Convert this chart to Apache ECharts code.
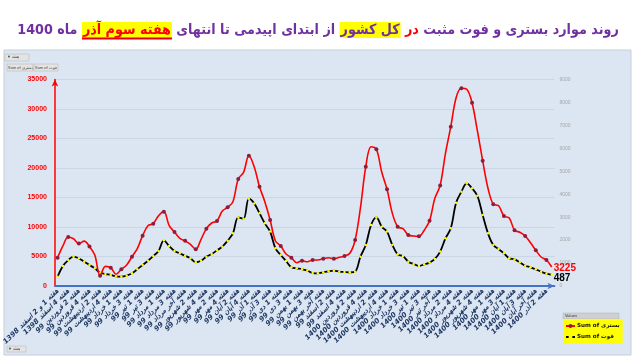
<!DOCTYPE html>
<html><head><meta charset="utf-8">
<script src="https://cdn.jsdelivr.net/npm/echarts@6/dist/echarts.min.js"></script>
<style>html,body{margin:0;padding:0;background:#fff}#c{width:636px;height:358px}</style>
</head><body><div id="c"></div>
<script>
const categories = [
'هفته 1 و 2 اسفند 1398','هفته 3 اسفند 1398','هفته 4 اسفند 1398',
'هفته 1 فروردین 99','هفته 2 فروردین 99','هفته 3 فروردین 99','هفته 4 فروردین 99',
'هفته 1 اردیبهشت 99','هفته 2 اردیبهشت 99','هفته 3 اردیبهشت 99','هفته 4 اردیبهشت 99','هفته آخر اردیبهشت 99',
'هفته 1 خرداد 99','هفته 2 خرداد 99','هفته 3 خرداد 99','هفته 4 خرداد 99',
'هفته 1 تیر 99','هفته 2 تیر 99','هفته 3 تیر 99','هفته 4 تیر 99',
'هفته 1 مرداد 99','هفته 2 مرداد 99','هفته 3 مرداد 99','هفته 4 مرداد 99','هفته آخر مرداد 99',
'هفته 1 شهریور 99','هفته 2 شهریور 99','هفته 3 شهریور 99','هفته 4 شهریور 99',
'هفته 1 مهر 99','هفته 2 مهر 99','هفته 3 مهر 99','هفته 4 مهر 99',
'هفته 1 آبان 99','هفته 2 آبان 99','هفته 3 آبان 99','هفته 4 آبان 99','هفته آخر آبان 99',
'هفته 1 آذر 99','هفته 2 آذر 99','هفته 3 آذر 99','هفته 4 آذر 99',
'هفته 1 دی 99','هفته 2 دی 99','هفته 3 دی 99','هفته 4 دی 99',
'هفته 1 بهمن 99','هفته 2 بهمن 99','هفته 3 بهمن 99','هفته 4 بهمن 99','هفته آخر بهمن 99',
'هفته 1 اسفند 99','هفته 2 اسفند 99','هفته 3 اسفند 99','هفته 4 اسفند 99',
'هفته 1 فروردین 1400','هفته 2 فروردین 1400','هفته 3 فروردین 1400','هفته 4 فروردین 1400',
'هفته 1 اردیبهشت 1400','هفته 2 اردیبهشت 1400','هفته 3 اردیبهشت 1400','هفته 4 اردیبهشت 1400','هفته آخر اردیبهشت 1400',
'هفته 1 خرداد 1400','هفته 2 خرداد 1400','هفته 3 خرداد 1400','هفته 4 خرداد 1400',
'هفته 1 تیر 1400','هفته 2 تیر 1400','هفته 3 تیر 1400','هفته 4 تیر 1400','هفته آخر تیر 1400',
'هفته 1 مرداد 1400','هفته 2 مرداد 1400','هفته 3 مرداد 1400','هفته 4 مرداد 1400',
'هفته 1 شهریور 1400','هفته 2 شهریور 1400','هفته 3 شهریور 1400','هفته 4 شهریور 1400','هفته آخر شهریور 1400',
'هفته 1 مهر 1400','هفته 2 مهر 1400','هفته 3 مهر 1400','هفته 4 مهر 1400',
'هفته 1 آبان 1400','هفته 2 آبان 1400','هفته 3 آبان 1400','هفته 4 آبان 1400','هفته آخر آبان 1400',
'هفته 1 آذر 1400','هفته 2 آذر 1400','هفته 3 آذر 1400'
];
const hospitalized = [
4800,6800,8300,8000,7200,7600,6700,5250,1750,3330,
3100,1980,2830,3560,4970,6330,8530,10220,10560,11920,
12600,10220,9150,8080,7650,7060,6220,7910,9720,10680,
11020,12710,13330,14290,18140,19270,22090,20220,16830,14290,
11190,7630,6780,5420,4800,3950,4290,4100,4410,4410,
4630,4800,4630,4860,5085,5540,7800,13270,20220,23610,
23170,19320,16390,12320,10050,9720,8640,8470,8420,9450,
11050,14860,17050,22490,27000,31920,33510,33340,31070,26320,
21240,16560,13850,13610,11870,11530,9440,9100,8480,7340,
6050,4920,4410,3225
];
const deaths = [
405,870,1130,1280,1205,1060,915,770,580,523,
480,420,405,450,553,728,915,1100,1307,1525,
1990,1743,1525,1423,1320,1205,1030,1100,1280,1395,
1555,1715,1975,2295,2990,2935,3805,3600,3170,2730,
2370,1640,1350,1090,815,770,728,675,565,553,
597,640,667,625,610,597,625,1280,1787,2660,
2990,2585,2370,1787,1380,1307,1060,960,870,945,
1020,1180,1500,2080,2515,3630,4110,4475,4260,3935,
3095,2295,1787,1612,1423,1205,1160,1030,885,815,
728,625,536,487
];
const leftTicks = [0,5000,10000,15000,20000,25000,30000,35000];
const rightTicks = [0,1000,2000,3000,4000,5000,6000,7000,8000,9000];
const seriesNames = ['Sum of بستری','Sum of فوت'];
const titleParts = ['1400',' ماه ','هفته سوم آذر',' از ابتدای اپیدمی تا انتهای ','کل کشور',' در ','روند موارد بستری و فوت مثبت'];
const titleStyles = ['p','p','hr','p','hy','r','p'];

const RLE='\u202B', PDF='\u202C';
const fa = 'DejaVu Sans Condensed';
const tf = 14.2;
const titleTop = 17;

// measure title to place the underline under the highlighted span
const mctx = document.createElement('canvas').getContext('2d');
mctx.font = 'bold '+tf+'px "'+fa+'"';
const widths = titleParts.map((t,i)=>mctx.measureText(t).width + ((titleStyles[i]==='hy'||titleStyles[i]==='hr')?2:0));
const totalW = widths.reduce((a,b)=>a+b,0);
const tLeft = (636-totalW)/2;
const ulX1 = tLeft + widths[0] + widths[1];
const ulX2 = ulX1 + widths[2];

const chart = echarts.init(document.getElementById('c'), null, {renderer:'canvas'});
chart.setOption({
  backgroundColor:'#ffffff',
  animation:false,
  title:{
    left:'center', top:titleTop,
    text:titleParts.map((t,i)=>'{'+titleStyles[i]+'|'+t+'}').join(''),
    textStyle:{
      rich:{
        p:{color:'#7030A0',fontSize:tf,fontWeight:'bold',fontFamily:fa},
        r:{color:'#FF0000',fontSize:tf,fontWeight:'bold',fontFamily:fa},
        hy:{color:'#7030A0',fontSize:tf,fontWeight:'bold',fontFamily:fa,backgroundColor:'#FFFF00',padding:[1,1,1,1]},
        hr:{color:'#FF0000',fontSize:tf,fontWeight:'bold',fontFamily:fa,backgroundColor:'#FFFF00',padding:[1,1,1,1]}
      }
    }
  },
  graphic:[
    {type:'rect',z:-10,shape:{x:4,y:50,width:627,height:305},style:{fill:'#DCE6F2',stroke:'#C6CFDA',lineWidth:1}},
    {type:'line',z:100,shape:{x1:ulX1,y1:titleTop+21.5,x2:ulX2,y2:titleTop+21.5},style:{stroke:'#E00000',lineWidth:2}},
    {type:'group',children:[
      {type:'rect',shape:{x:5,y:54,width:24,height:7},style:{fill:'#E4E4E4',stroke:'#B0B0B0',lineWidth:0.5}},
      {type:'text',style:{x:7,y:55,text:'▼ هفته',fontSize:4,fill:'#444'}},
      {type:'rect',shape:{x:7,y:64,width:26,height:7},style:{fill:'#E4E4E4',stroke:'#B0B0B0',lineWidth:0.5}},
      {type:'text',style:{x:8,y:65.5,text:'Sum of بستری',fontSize:4,fill:'#444'}},
      {type:'rect',shape:{x:34,y:64,width:24,height:7},style:{fill:'#E4E4E4',stroke:'#B0B0B0',lineWidth:0.5}},
      {type:'text',style:{x:35,y:65.5,text:'Sum of فوت',fontSize:4,fill:'#444'}},
      {type:'rect',shape:{x:7,y:346,width:19,height:6},style:{fill:'#E4E4E4',stroke:'#B0B0B0',lineWidth:0.5}},
      {type:'text',style:{x:8,y:347,text:'▼ هفته',fontSize:4,fill:'#444'}},
      {type:'rect',shape:{x:563,y:313,width:56,height:6},style:{fill:'#D0D0D0',stroke:'#B0B0B0',lineWidth:0.5}},
      {type:'text',style:{x:565,y:314,text:'Values',fontSize:4,fill:'#333'}}
    ]}
  ],
  legend:{
    data:seriesNames, orient:'vertical', left:563, top:319,
    backgroundColor:'#FFFF00', padding:[4,3,4,2], itemGap:5,
    itemWidth:9, itemHeight:5,
    textStyle:{fontSize:5.6,color:'#111',fontFamily:'DejaVu Sans',fontWeight:'bold',padding:[0,0,0,-3]}
  },
  grid:{left:45.3,right:81.6,top:79.5,bottom:72,containLabel:false},
  xAxis:{
    type:'category', data:categories, boundaryGap:true,
    axisLine:{show:true,lineStyle:{color:'#4472C4',width:2},symbol:['none','arrow'],symbolSize:[5,7]},
    axisTick:{show:false},
    axisLabel:{interval:1,rotate:45,fontSize:7,fontWeight:'bold',fontStyle:'italic',color:'#1F3864',fontFamily:'DejaVu Sans',margin:4,
      formatter:v=>RLE+v+PDF}
  },
  yAxis:[
    {type:'value',min:leftTicks[0],max:leftTicks[leftTicks.length-1],interval:leftTicks[1]-leftTicks[0],
      axisLine:{show:true,lineStyle:{color:'#FF0000',width:1.5},symbol:['none','arrow'],symbolSize:[5,7]},
      axisTick:{show:false},
      axisLabel:{color:'#FF0000',fontSize:7,fontWeight:'bold',margin:8,fontFamily:'Liberation Sans',formatter:v=>String(v)},
      splitLine:{show:true,lineStyle:{color:'#C9D6E6',width:1}}},
    {type:'value',min:rightTicks[0],max:rightTicks[rightTicks.length-1],interval:rightTicks[1]-rightTicks[0],
      position:'right',
      axisLine:{show:false},axisTick:{show:false},
      axisLabel:{color:'#A6A6A6',fontSize:5,margin:5,fontFamily:'Liberation Sans',formatter:v=>String(v)},
      splitLine:{show:false}}
  ],
  series:[
    {name:seriesNames[0],type:'line',yAxisIndex:0,data:hospitalized,smooth:0.35,
      symbol:'circle',symbolSize:4,
      lineStyle:{color:'#FF0000',width:1.6},itemStyle:{color:'#8B1E3F'},
      endLabel:{show:true,distance:2,offset:[0,1],color:'#FF0000',fontWeight:'bold',fontSize:10,fontFamily:'Liberation Sans',
        formatter:p=>String(p.value)},
      z:3},
    {name:seriesNames[1],type:'line',yAxisIndex:1,data:deaths,smooth:0.35,
      symbol:'circle',symbolSize:2.5,
      lineStyle:{color:'#000000',width:1.8},itemStyle:{color:'#FFFF00'},
      endLabel:{show:true,distance:2,offset:[0,3],color:'#000',fontWeight:'bold',fontSize:10,fontFamily:'Liberation Sans',
        formatter:p=>String(p.value)},
      z:2}
  ]
});
</script></body></html>
